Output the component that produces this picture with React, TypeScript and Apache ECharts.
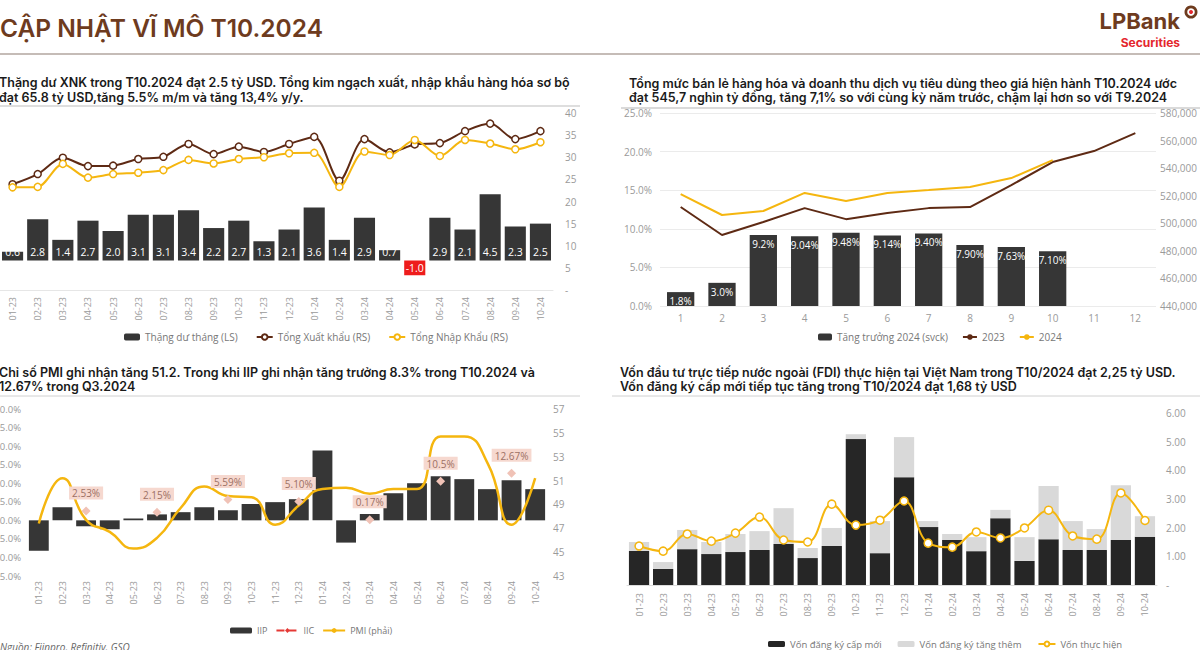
import React, { useEffect, useRef } from "react";
import * as echarts from "echarts";

// ---------- DATA ----------
const months = [
  "01-23", "02-23", "03-23", "04-23", "05-23", "06-23", "07-23", "08-23", "09-23", "10-23", "11-23", "12-23",
  "01-24", "02-24", "03-24", "04-24", "05-24", "06-24", "07-24", "08-24", "09-24", "10-24",
];

// Chart 1: trade
const tradeBalance = [0.6, 2.8, 1.4, 2.7, 2.0, 3.1, 3.1, 3.4, 2.2, 2.7, 1.3, 2.1, 3.6, 1.4, 2.9, 0.7, -1.0, 2.9, 2.1, 4.5, 2.3, 2.5];
const exportsUSD = [23.9, 26.2, 29.9, 28.0, 28.1, 29.6, 30.1, 33.0, 30.7, 32.4, 31.2, 33.0, 34.6, 24.7, 34.1, 31.1, 32.9, 33.2, 35.9, 37.6, 34.1, 35.9];
const importsUSD = [23.2, 23.3, 28.5, 25.4, 26.2, 26.5, 27.1, 29.4, 28.6, 29.6, 30.0, 30.9, 31.0, 23.3, 31.3, 30.5, 33.9, 30.3, 33.9, 33.1, 31.8, 33.4];

// Chart 2: retail
const retailMonths = ["1", "2", "3", "4", "5", "6", "7", "8", "9", "10", "11", "12"];
const retailGrowth2024 = [1.8, 3.0, 9.2, 9.04, 9.48, 9.14, 9.4, 7.9, 7.63, 7.1];
const retailGrowthLabels = ["1.8%", "3.0%", "9.2%", "9.04%", "9.48%", "9.14%", "9.40%", "7.90%", "7.63%", "7.10%"];
const retail2023 = [511800, 491500, 500900, 511000, 503000, 507400, 511000, 511800, 527700, 544400, 552400, 565400];
const retail2024 = [521200, 506000, 508900, 522000, 516100, 522000, 524100, 526300, 532800, 545800];

// Chart 3: IIP / PMI
const iip = [-8.2, 3.5, -1.6, -2.4, 0.5, 1.6, 2.2, 3.5, 2.7, 4.4, 4.9, 5.7, 18.8, -6.0, 1.7, 7.3, 10.0, 11.9, 11.1, 8.4, 10.8, 8.4];
const iic = [null, null, 2.53, null, null, 2.15, null, null, 5.59, null, null, 5.1, null, null, 0.17, null, null, 10.5, null, null, 12.67, null];
const iicLabels = ["", "", "2.53%", "", "", "2.15%", "", "", "5.59%", "", "", "5.10%", "", "", "0.17%", "", "", "10.5%", "", "", "12.67%", ""];
const pmi = [47.4, 51.2, 47.7, 46.7, 45.3, 46.2, 48.7, 50.5, 49.7, 49.6, 47.3, 48.9, 50.3, 50.4, 49.9, 50.3, 50.3, 54.7, 54.7, 52.4, 47.3, 51.2];
const pmiTicks = [43, 45, 47, 49, 51, 53, 55, 57];

// Chart 4: FDI
const fdiNew = [1.19, 0.56, 1.25, 1.08, 1.15, 1.22, 1.43, 0.94, 1.36, 5.09, 1.11, 3.76, 2.02, 1.57, 1.18, 2.33, 0.84, 1.6, 1.22, 1.22, 1.57, 1.68];
const fdiAdded = [0.31, 0.24, 0.67, 0.42, 0.63, 0.66, 1.25, 0.35, 0.63, 0.17, 1.12, 1.4, 0.21, 0.21, 0.49, 0.29, 0.83, 1.85, 1.01, 0.73, 1.91, 0.72];
const fdiDisbursed = [1.36, 1.18, 1.78, 1.53, 1.81, 2.37, 1.57, 1.5, 2.82, 2.09, 2.26, 2.93, 1.46, 1.32, 1.85, 1.64, 1.99, 2.61, 1.71, 1.6, 3.21, 2.25];

// ---------- STYLE ----------
const BROWN = "#5e2a14";
const YELLOW = "#f5b60f";
const DARK = "#363636";
const AX_FONT = '"Open Sans", "Noto Sans", sans-serif';
const T_FONT = 'Inter, "Noto Sans", sans-serif';
const AX_COLOR = "#9a9a9a";

const axLabel = (extra: any) => ({ color: AX_COLOR, fontSize: 10, fontFamily: AX_FONT, ...extra });

function titleText(x: number, y: number, text: string) {
  return {
    type: "text",
    x,
    y,
    silent: true,
    style: { text, fontSize: 12.5, fontWeight: 600, fontFamily: T_FONT, fill: "#1a1a1a", verticalAlign: "middle" },
  };
}
function hline(x1: number, x2: number, y: number, color: string, w: number) {
  return { type: "line", silent: true, shape: { x1, y1: y, x2, y2: y }, style: { stroke: color, lineWidth: w } };
}

export default function App() {
  const ref = useRef<HTMLDivElement>(null);
  useEffect(() => {
    if (!ref.current) return;
    const chart = echarts.init(ref.current, undefined, { renderer: "svg" });
    const option: any = {
      animation: false,
      backgroundColor: "#ffffff",
      textStyle: { fontFamily: AX_FONT },
      grid: [
        { left: 0, right: 647, top: 113, bottom: 360, outerBoundsMode: "none", containLabel: false },
        { left: 660, right: 44, top: 113, bottom: 344, outerBoundsMode: "none", containLabel: false },
        { left: 27, right: 653, top: 409, bottom: 74, outerBoundsMode: "none", containLabel: false },
        { left: 627, right: 43, top: 413, bottom: 65, outerBoundsMode: "none", containLabel: false },
      ],
      xAxis: [
        {
          gridIndex: 0, type: "category", data: months,
          axisTick: { show: false },
          axisLine: { onZero: false, lineStyle: { color: "#e6e6e6" } },
          axisLabel: axLabel({ rotate: 90, fontSize: 9, margin: 7 }),
        },
        {
          gridIndex: 1, type: "category", data: retailMonths,
          axisTick: { show: false }, axisLine: { show: false },
          axisLabel: axLabel({ margin: 7 }),
        },
        {
          gridIndex: 2, type: "category", data: months,
          axisTick: { show: false }, axisLine: { show: false },
          axisLabel: axLabel({ rotate: 90, fontSize: 9, margin: 5 }),
        },
        {
          gridIndex: 3, type: "category", data: months,
          axisTick: { show: false },
          axisLine: { lineStyle: { color: "#dddddd" } },
          axisLabel: axLabel({ rotate: 90, fontSize: 9, margin: 8 }),
        },
      ],
      yAxis: [
        { gridIndex: 0, type: "value", min: -2, max: 10, show: false },
        {
          gridIndex: 0, type: "value", position: "right", min: 0, max: 40, interval: 5,
          axisLabel: axLabel({ margin: 12, formatter: (v: number) => (v === 0 ? "-" : String(v)) }),
          splitLine: { show: false }, axisLine: { show: false }, axisTick: { show: false },
        },
        {
          gridIndex: 1, type: "value", min: 0, max: 25, interval: 5,
          axisLabel: axLabel({ margin: 8, formatter: (v: number) => v.toFixed(1) + "%" }),
          splitLine: { lineStyle: { color: "#ebebeb" } }, axisLine: { show: false }, axisTick: { show: false },
        },
        {
          gridIndex: 1, type: "value", position: "right", min: 440000, max: 580000, interval: 20000,
          axisLabel: axLabel({ margin: 4, formatter: (v: number) => v.toLocaleString("en-US") }),
          splitLine: { show: false }, axisLine: { show: false }, axisTick: { show: false },
        },
        {
          gridIndex: 2, type: "value", min: -15, max: 30, interval: 5,
          axisLabel: axLabel({ margin: 6, fontSize: 9.5, formatter: (v: number) => v.toFixed(1) + "%" }),
          splitLine: { show: false }, axisLine: { show: false }, axisTick: { show: false },
        },
        {
          gridIndex: 2, type: "value", position: "right", min: 43, max: 57,
          axisLabel: axLabel({ margin: 6, customValues: pmiTicks }),
          splitLine: { show: false }, axisLine: { show: false }, axisTick: { show: false },
        },
        {
          gridIndex: 3, type: "value", position: "right", min: 0, max: 6, interval: 1,
          axisLabel: axLabel({ margin: 9, formatter: (v: number) => (v === 0 ? "-" : v.toFixed(2)) }),
          splitLine: { show: false }, axisLine: { show: false }, axisTick: { show: false },
        },
      ],
      legend: [
        {
          left: 119, top: 327, itemWidth: 16, itemHeight: 7, itemGap: 18,
          textStyle: { color: "#777", fontSize: 10, fontFamily: AX_FONT },
          data: ["Thặng dư tháng (LS)", "Tổng Xuất khẩu (RS)", "Tổng Nhập Khẩu (RS)"],
        },
        {
          left: 813, top: 327, itemWidth: 14, itemHeight: 7, itemGap: 14,
          textStyle: { color: "#777", fontSize: 10, fontFamily: AX_FONT },
          data: ["Tăng trưởng 2024 (svck)", "2023", "2024"],
        },
        {
          left: 225, top: 621, itemWidth: 22, itemHeight: 6, itemGap: 8,
          textStyle: { color: "#777", fontSize: 9, fontFamily: AX_FONT },
          data: [
            "IIP",
            { name: "IIC", itemStyle: { color: "#e53935" }, lineStyle: { color: "#e53935", type: "dashed", width: 2 } },
            "PMI (phải)",
          ],
        },
        {
          left: 763, top: 637, padding: [2, 5, 2, 5], itemWidth: 17, itemHeight: 6, itemGap: 16,
          textStyle: { color: "#777", fontSize: 9.5, fontFamily: AX_FONT },
          data: ["Vốn đăng ký cấp mới", "Vốn đăng ký tăng thêm", "Vốn thực hiện"],
        },
      ],
      series: [
        // Chart 1
        {
          type: "bar", name: "Thặng dư tháng (LS)", xAxisIndex: 0, yAxisIndex: 0, barWidth: "84%",
          itemStyle: { color: DARK },
          data: tradeBalance.map((v) =>
            v < 0 ? { value: v, itemStyle: { color: "#ee1c1c" }, label: { position: "inside" } } : v
          ),
          label: {
            show: true, position: "insideBottom", distance: 3, color: "#fff", fontSize: 10.5, fontFamily: AX_FONT,
            formatter: (p: any) => Number(p.value).toFixed(1),
          },
        },
        {
          type: "line", name: "Tổng Xuất khẩu (RS)", xAxisIndex: 0, yAxisIndex: 1, smooth: 0.3,
          symbol: "circle", symbolSize: 7, data: exportsUSD,
          lineStyle: { color: BROWN, width: 2 },
          itemStyle: { color: "#fff", borderColor: BROWN, borderWidth: 1.5 },
        },
        {
          type: "line", name: "Tổng Nhập Khẩu (RS)", xAxisIndex: 0, yAxisIndex: 1, smooth: 0.3,
          symbol: "circle", symbolSize: 7, data: importsUSD,
          lineStyle: { color: YELLOW, width: 2 },
          itemStyle: { color: "#fff", borderColor: YELLOW, borderWidth: 1.5 },
        },
        // Chart 2
        {
          type: "bar", name: "Tăng trưởng 2024 (svck)", xAxisIndex: 1, yAxisIndex: 2, barWidth: "66%",
          itemStyle: { color: DARK }, data: retailGrowth2024,
          label: {
            show: true, position: "insideTop", distance: 4, color: "#fff", fontSize: 10, fontFamily: AX_FONT,
            formatter: (p: any) => retailGrowthLabels[p.dataIndex],
          },
        },
        {
          type: "line", name: "2023", xAxisIndex: 1, yAxisIndex: 3, symbol: "none", data: retail2023,
          lineStyle: { color: BROWN, width: 2 }, itemStyle: { color: BROWN },
        },
        {
          type: "line", name: "2024", xAxisIndex: 1, yAxisIndex: 3, symbol: "none", data: retail2024,
          lineStyle: { color: YELLOW, width: 2 }, itemStyle: { color: YELLOW },
        },
        // Chart 3
        {
          type: "bar", name: "IIP", xAxisIndex: 2, yAxisIndex: 4, barWidth: "84%",
          itemStyle: { color: DARK }, data: iip,
        },
        {
          type: "line", name: "PMI (phải)", xAxisIndex: 2, yAxisIndex: 5, smooth: 0.5, symbol: "none", data: pmi,
          lineStyle: { color: YELLOW, width: 2.5 }, itemStyle: { color: YELLOW },
        },
        {
          type: "line", name: "IIC", xAxisIndex: 2, yAxisIndex: 4, data: iic, connectNulls: false,
          symbol: "diamond", symbolSize: 9,
          lineStyle: { color: "#e53935", type: "dashed", width: 2 },
          itemStyle: { color: "#f0c2b6" },
          label: {
            show: true, position: "top", distance: 7, color: "#9c7064", fontSize: 10, fontFamily: AX_FONT,
            backgroundColor: "#f6d8cf", padding: [2, 3, 1, 3],
            formatter: (p: any) => iicLabels[p.dataIndex],
          },
        },
        // Chart 4
        {
          type: "bar", name: "Vốn đăng ký cấp mới", xAxisIndex: 3, yAxisIndex: 6, stack: "fdi", barWidth: "84%",
          itemStyle: { color: "#262626" }, data: fdiNew,
        },
        {
          type: "bar", name: "Vốn đăng ký tăng thêm", xAxisIndex: 3, yAxisIndex: 6, stack: "fdi",
          itemStyle: { color: "#d9d9d9" }, data: fdiAdded,
        },
        {
          type: "line", name: "Vốn thực hiện", xAxisIndex: 3, yAxisIndex: 6, smooth: 0.4,
          symbol: "circle", symbolSize: 8, data: fdiDisbursed,
          lineStyle: { color: YELLOW, width: 2 },
          itemStyle: { color: "#fff", borderColor: YELLOW, borderWidth: 1.5 },
        },
      ],
      graphic: [
        {
          type: "text", x: 0, y: 28, silent: true,
          style: {
            text: "CẬP NHẬT VĨ MÔ T10.2024", fontSize: 24.5, fontWeight: 600, fontFamily: T_FONT,
            fill: "#6e3b1e", verticalAlign: "middle",
          },
        },
        {
          type: "text", x: 1180, y: 21, silent: true,
          style: {
            text: "LPBank", fontSize: 22, fontWeight: 700, fontFamily: T_FONT, fill: "#6e3b1e",
            align: "right", verticalAlign: "middle",
          },
        },
        {
          type: "text", x: 1180, y: 42.5, silent: true,
          style: {
            text: "Securities", fontSize: 12, fontWeight: 700, fontFamily: T_FONT, fill: "#e4262c",
            align: "right", verticalAlign: "middle",
          },
        },
        { type: "ring", silent: true, shape: { cx: 1191, cy: 12, r: 6.5, r0: 3.8 }, style: { fill: "#6e3b1e" } },
        { type: "circle", silent: true, shape: { cx: 1191, cy: 12, r: 2 }, style: { fill: "#e4262c" } },
        hline(0, 1200, 54, "#8c7b70", 1.2),
        titleText(-1, 82, "Thặng dư XNK trong T10.2024 đạt 2.5 tỷ USD. Tổng kim ngạch xuất, nhập khẩu hàng hóa sơ bộ"),
        titleText(-1, 97, "đạt 65.8 tỷ USD,tăng 5.5% m/m và tăng 13,4% y/y."),
        hline(0, 580, 106, "#dedede", 2),
        titleText(629, 83, "Tổng mức bán lẻ hàng hóa và doanh thu dịch vụ tiêu dùng theo giá hiện hành T10.2024 ước"),
        titleText(629, 97, "đạt 545,7 nghìn tỷ đồng, tăng 7,1% so với cùng kỳ năm trước, chậm lại hơn so với T9.2024"),
        hline(621, 1200, 108, "#b5b5b5", 1),
        titleText(-1, 372, "Chỉ số PMI ghi nhận tăng 51.2. Trong khi IIP ghi nhận tăng trưởng 8.3% trong T10.2024 và"),
        titleText(-1, 386, "12.67% trong Q3.2024"),
        hline(0, 580, 396, "#d0d0d0", 1),
        titleText(620, 372, "Vốn đầu tư trực tiếp nước ngoài (FDI) thực hiện tại Việt Nam trong T10/2024 đạt 2,25 tỷ USD."),
        titleText(620, 386, "Vốn đăng ký cấp mới tiếp tục tăng trong T10/2024 đạt 1,68 tỷ USD"),
        hline(612, 1200, 396, "#d0d0d0", 1),
        {
          type: "text", x: 0, y: 647, silent: true,
          style: {
            text: "Nguồn: Fiinpro, Refinitiv, GSO", fontSize: 10, fontStyle: "italic", fontFamily: AX_FONT,
            fill: "#666", verticalAlign: "middle",
          },
        },
      ],
    };
    chart.setOption(option);
    return () => chart.dispose();
  }, []);
  return (
    <div
      ref={ref}
      style={{ position: "fixed", left: 0, top: 0, width: 1200, height: 650, background: "#fff" }}
    />
  );
}
